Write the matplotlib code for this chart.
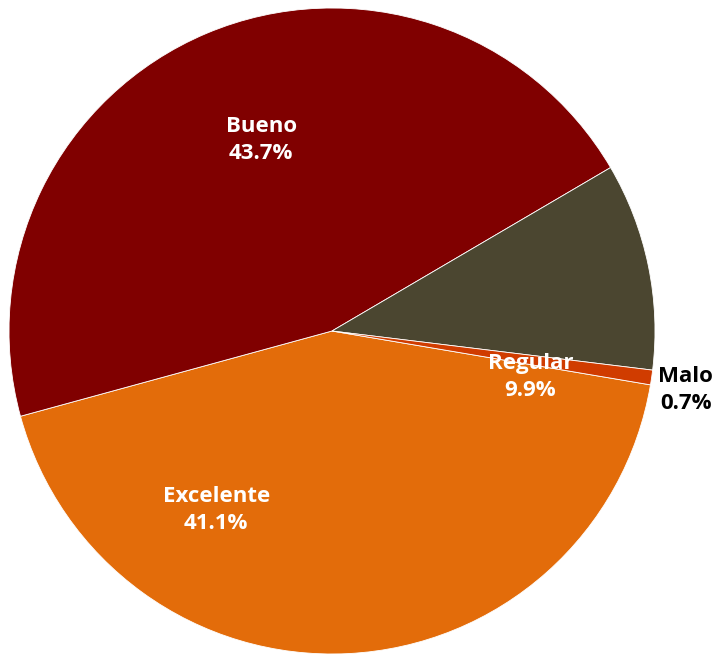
import matplotlib
matplotlib.use("Agg")
import matplotlib.pyplot as plt
import numpy as np

categories = ["Excelente", "Bueno", "Regular", "Malo"]
values = [41.1, 43.7, 9.9, 0.7]
colors = ["#E36C0A", "#800000", "#4B4630", "#D03C00"]

# label placement: (radius fraction, angle in degrees) and text colour
label_pos = [(0.66, -122.9), (0.63, 110.4), (0.63, -13.0), (1.11, -9.5)]
label_colors = ["white", "white", "white", "black"]

plt.rcParams["font.family"] = ["Open Sans", "DejaVu Sans"]

fig = plt.figure(figsize=(7.19, 6.54), dpi=100)
ax = fig.add_axes([9 / 719, 0.0, 646 / 719, 646 / 654])

ax.pie(
    values,
    colors=colors,
    startangle=-9.6,
    counterclock=False,
    radius=1.0,
    wedgeprops=dict(edgecolor="white", linewidth=0.6),
)

for cat, val, (r, ang), tc in zip(categories, values, label_pos, label_colors):
    a = np.deg2rad(ang)
    ax.text(
        r * np.cos(a), r * np.sin(a), f"{cat}\n{val:.1f}%",
        ha="center", va="center", color=tc,
        fontsize=16, fontweight="bold", linespacing=1.4,
    )

ax.set_xlim(-1, 1)
ax.set_ylim(-1, 1)
ax.set_aspect("equal")
ax.axis("off")

fig.savefig("out.png", dpi=100)
